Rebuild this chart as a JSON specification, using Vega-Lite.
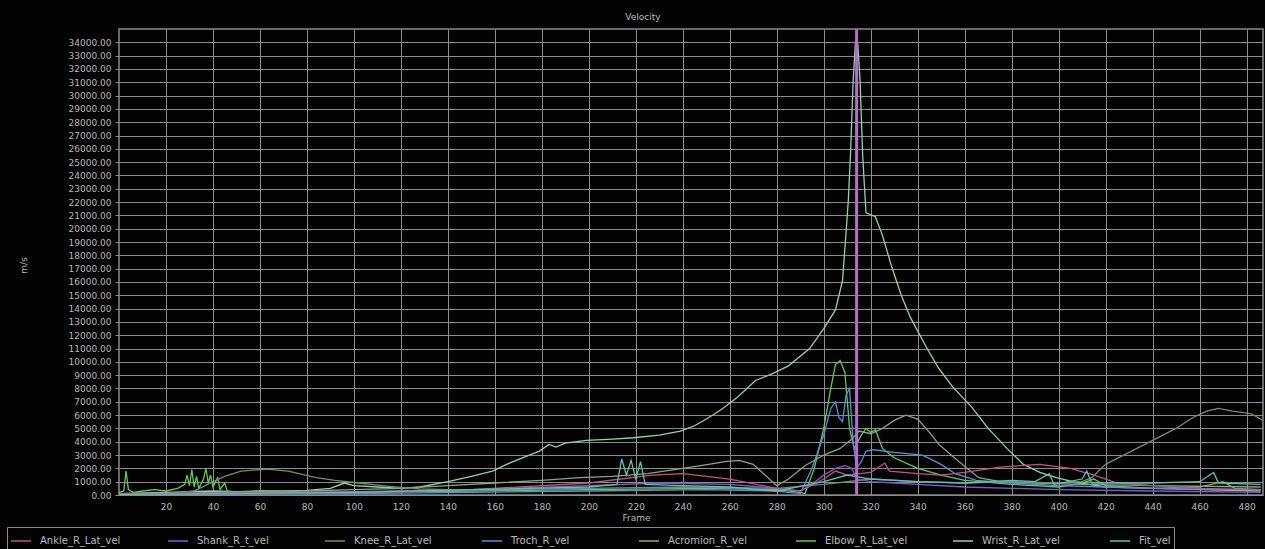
{
  "$schema": "https://vega.github.io/schema/vega-lite/v6.json",
  "width": 1144,
  "height": 466,
  "autosize": {"type": "none"},
  "padding": {"left": 119, "top": 29, "right": 2, "bottom": 54},
  "background": "#030303",
  "title": {"text": "Velocity", "fontSize": 9, "color": "#bdbdbd", "font": "DejaVu Sans", "fontWeight": "normal", "anchor": "middle", "dx": -48, "offset": 6},
  "config": {
    "view": {"stroke": "#8a8a8a", "strokeWidth": 1.5, "fill": "#030303"},
    "axis": {"gridColor": "#8c8c8c", "gridWidth": 1, "gridOpacity": 1, "domain": false, "labelColor": "#b8b8b8", "labelFont": "DejaVu Sans", "labelFontSize": 9, "titleColor": "#b8b8b8", "titleFont": "DejaVu Sans", "titleFontSize": 9, "titleFontWeight": "normal"}
  },
  "datasets": {
    "vel": [
      {"s":"Wrist_R_Lat_vel","f":0,"v":100},{"s":"Wrist_R_Lat_vel","f":10,"v":150},{"s":"Wrist_R_Lat_vel","f":20,"v":200},{"s":"Wrist_R_Lat_vel","f":30,"v":250},{"s":"Wrist_R_Lat_vel","f":40,"v":300},{"s":"Wrist_R_Lat_vel","f":50,"v":250},{"s":"Wrist_R_Lat_vel","f":60,"v":300},{"s":"Wrist_R_Lat_vel","f":70,"v":300},{"s":"Wrist_R_Lat_vel","f":80,"v":350},{"s":"Wrist_R_Lat_vel","f":90,"v":500},{"s":"Wrist_R_Lat_vel","f":96,"v":900},{"s":"Wrist_R_Lat_vel","f":100,"v":700},{"s":"Wrist_R_Lat_vel","f":110,"v":600},{"s":"Wrist_R_Lat_vel","f":120,"v":500},{"s":"Wrist_R_Lat_vel","f":128,"v":600},{"s":"Wrist_R_Lat_vel","f":140,"v":1000},{"s":"Wrist_R_Lat_vel","f":150,"v":1400},{"s":"Wrist_R_Lat_vel","f":159,"v":1800},{"s":"Wrist_R_Lat_vel","f":165,"v":2300},{"s":"Wrist_R_Lat_vel","f":172,"v":2800},{"s":"Wrist_R_Lat_vel","f":179,"v":3300},{"s":"Wrist_R_Lat_vel","f":183,"v":3800},{"s":"Wrist_R_Lat_vel","f":186,"v":3600},{"s":"Wrist_R_Lat_vel","f":190,"v":3900},{"s":"Wrist_R_Lat_vel","f":199,"v":4100},{"s":"Wrist_R_Lat_vel","f":210,"v":4200},{"s":"Wrist_R_Lat_vel","f":219,"v":4300},{"s":"Wrist_R_Lat_vel","f":230,"v":4500},{"s":"Wrist_R_Lat_vel","f":239,"v":4800},{"s":"Wrist_R_Lat_vel","f":245,"v":5200},{"s":"Wrist_R_Lat_vel","f":251,"v":5800},{"s":"Wrist_R_Lat_vel","f":257,"v":6500},{"s":"Wrist_R_Lat_vel","f":263,"v":7300},{"s":"Wrist_R_Lat_vel","f":271,"v":8600},{"s":"Wrist_R_Lat_vel","f":278,"v":9100},{"s":"Wrist_R_Lat_vel","f":285,"v":9700},{"s":"Wrist_R_Lat_vel","f":294,"v":11000},{"s":"Wrist_R_Lat_vel","f":300,"v":12500},{"s":"Wrist_R_Lat_vel","f":305,"v":13900},{"s":"Wrist_R_Lat_vel","f":308,"v":16100},{"s":"Wrist_R_Lat_vel","f":309.5,"v":19700},{"s":"Wrist_R_Lat_vel","f":310.5,"v":22200},{"s":"Wrist_R_Lat_vel","f":311.5,"v":26000},{"s":"Wrist_R_Lat_vel","f":312.5,"v":31000},{"s":"Wrist_R_Lat_vel","f":313.5,"v":34000},{"s":"Wrist_R_Lat_vel","f":314.5,"v":33900},{"s":"Wrist_R_Lat_vel","f":315.5,"v":31000},{"s":"Wrist_R_Lat_vel","f":316.6,"v":25400},{"s":"Wrist_R_Lat_vel","f":318,"v":21200},{"s":"Wrist_R_Lat_vel","f":322,"v":20900},{"s":"Wrist_R_Lat_vel","f":325,"v":19500},{"s":"Wrist_R_Lat_vel","f":329,"v":17100},{"s":"Wrist_R_Lat_vel","f":333,"v":15000},{"s":"Wrist_R_Lat_vel","f":337,"v":13300},{"s":"Wrist_R_Lat_vel","f":344,"v":11000},{"s":"Wrist_R_Lat_vel","f":349,"v":9500},{"s":"Wrist_R_Lat_vel","f":355,"v":8100},{"s":"Wrist_R_Lat_vel","f":363,"v":6600},{"s":"Wrist_R_Lat_vel","f":370,"v":5000},{"s":"Wrist_R_Lat_vel","f":378,"v":3500},{"s":"Wrist_R_Lat_vel","f":385,"v":2300},{"s":"Wrist_R_Lat_vel","f":392,"v":1700},{"s":"Wrist_R_Lat_vel","f":399,"v":1300},{"s":"Wrist_R_Lat_vel","f":406,"v":1000},{"s":"Wrist_R_Lat_vel","f":413,"v":800},{"s":"Wrist_R_Lat_vel","f":420,"v":600},{"s":"Wrist_R_Lat_vel","f":440,"v":500},{"s":"Wrist_R_Lat_vel","f":460,"v":400},{"s":"Wrist_R_Lat_vel","f":486,"v":300},

      {"s":"Elbow_R_Lat_vel","f":0,"v":200},{"s":"Elbow_R_Lat_vel","f":2,"v":300},{"s":"Elbow_R_Lat_vel","f":3,"v":1800},{"s":"Elbow_R_Lat_vel","f":4,"v":400},{"s":"Elbow_R_Lat_vel","f":6,"v":200},{"s":"Elbow_R_Lat_vel","f":10,"v":300},{"s":"Elbow_R_Lat_vel","f":15,"v":400},{"s":"Elbow_R_Lat_vel","f":20,"v":300},{"s":"Elbow_R_Lat_vel","f":25,"v":500},{"s":"Elbow_R_Lat_vel","f":28,"v":800},{"s":"Elbow_R_Lat_vel","f":29,"v":1500},{"s":"Elbow_R_Lat_vel","f":30,"v":700},{"s":"Elbow_R_Lat_vel","f":31,"v":1900},{"s":"Elbow_R_Lat_vel","f":32,"v":600},{"s":"Elbow_R_Lat_vel","f":33,"v":1400},{"s":"Elbow_R_Lat_vel","f":34,"v":500},{"s":"Elbow_R_Lat_vel","f":36,"v":1200},{"s":"Elbow_R_Lat_vel","f":37,"v":2000},{"s":"Elbow_R_Lat_vel","f":38,"v":900},{"s":"Elbow_R_Lat_vel","f":39,"v":1500},{"s":"Elbow_R_Lat_vel","f":40,"v":600},{"s":"Elbow_R_Lat_vel","f":42,"v":1300},{"s":"Elbow_R_Lat_vel","f":43,"v":400},{"s":"Elbow_R_Lat_vel","f":45,"v":900},{"s":"Elbow_R_Lat_vel","f":46,"v":300},{"s":"Elbow_R_Lat_vel","f":50,"v":200},{"s":"Elbow_R_Lat_vel","f":60,"v":300},{"s":"Elbow_R_Lat_vel","f":80,"v":200},{"s":"Elbow_R_Lat_vel","f":100,"v":200},{"s":"Elbow_R_Lat_vel","f":150,"v":300},{"s":"Elbow_R_Lat_vel","f":200,"v":400},{"s":"Elbow_R_Lat_vel","f":250,"v":500},{"s":"Elbow_R_Lat_vel","f":280,"v":400},{"s":"Elbow_R_Lat_vel","f":290,"v":200},{"s":"Elbow_R_Lat_vel","f":292,"v":100},{"s":"Elbow_R_Lat_vel","f":296,"v":2000},{"s":"Elbow_R_Lat_vel","f":300,"v":5000},{"s":"Elbow_R_Lat_vel","f":303,"v":8000},{"s":"Elbow_R_Lat_vel","f":305,"v":9800},{"s":"Elbow_R_Lat_vel","f":307,"v":10100},{"s":"Elbow_R_Lat_vel","f":309,"v":9200},{"s":"Elbow_R_Lat_vel","f":311,"v":5000},{"s":"Elbow_R_Lat_vel","f":313,"v":3500},{"s":"Elbow_R_Lat_vel","f":316,"v":4500},{"s":"Elbow_R_Lat_vel","f":318,"v":5000},{"s":"Elbow_R_Lat_vel","f":320,"v":4700},{"s":"Elbow_R_Lat_vel","f":322,"v":4900},{"s":"Elbow_R_Lat_vel","f":325,"v":3500},{"s":"Elbow_R_Lat_vel","f":330,"v":2800},{"s":"Elbow_R_Lat_vel","f":340,"v":2000},{"s":"Elbow_R_Lat_vel","f":350,"v":1500},{"s":"Elbow_R_Lat_vel","f":360,"v":1100},{"s":"Elbow_R_Lat_vel","f":380,"v":800},{"s":"Elbow_R_Lat_vel","f":400,"v":600},{"s":"Elbow_R_Lat_vel","f":410,"v":900},{"s":"Elbow_R_Lat_vel","f":415,"v":1200},{"s":"Elbow_R_Lat_vel","f":420,"v":700},{"s":"Elbow_R_Lat_vel","f":440,"v":500},{"s":"Elbow_R_Lat_vel","f":460,"v":600},{"s":"Elbow_R_Lat_vel","f":470,"v":1000},{"s":"Elbow_R_Lat_vel","f":475,"v":500},{"s":"Elbow_R_Lat_vel","f":486,"v":400},

      {"s":"Acromion_R_vel","f":0,"v":100},{"s":"Acromion_R_vel","f":20,"v":100},{"s":"Acromion_R_vel","f":40,"v":200},{"s":"Acromion_R_vel","f":60,"v":250},{"s":"Acromion_R_vel","f":80,"v":300},{"s":"Acromion_R_vel","f":100,"v":400},{"s":"Acromion_R_vel","f":120,"v":500},{"s":"Acromion_R_vel","f":140,"v":700},{"s":"Acromion_R_vel","f":160,"v":900},{"s":"Acromion_R_vel","f":180,"v":1100},{"s":"Acromion_R_vel","f":196,"v":1300},{"s":"Acromion_R_vel","f":210,"v":1400},{"s":"Acromion_R_vel","f":225,"v":1600},{"s":"Acromion_R_vel","f":240,"v":2000},{"s":"Acromion_R_vel","f":251,"v":2300},{"s":"Acromion_R_vel","f":258,"v":2500},{"s":"Acromion_R_vel","f":264,"v":2600},{"s":"Acromion_R_vel","f":270,"v":2300},{"s":"Acromion_R_vel","f":275,"v":1500},{"s":"Acromion_R_vel","f":280,"v":700},{"s":"Acromion_R_vel","f":285,"v":1200},{"s":"Acromion_R_vel","f":292,"v":2200},{"s":"Acromion_R_vel","f":300,"v":3000},{"s":"Acromion_R_vel","f":307,"v":3500},{"s":"Acromion_R_vel","f":312,"v":4200},{"s":"Acromion_R_vel","f":315,"v":4800},{"s":"Acromion_R_vel","f":320,"v":4600},{"s":"Acromion_R_vel","f":325,"v":5000},{"s":"Acromion_R_vel","f":330,"v":5600},{"s":"Acromion_R_vel","f":335,"v":6000},{"s":"Acromion_R_vel","f":340,"v":5700},{"s":"Acromion_R_vel","f":345,"v":4700},{"s":"Acromion_R_vel","f":349,"v":3800},{"s":"Acromion_R_vel","f":355,"v":2900},{"s":"Acromion_R_vel","f":361,"v":2000},{"s":"Acromion_R_vel","f":366,"v":1300},{"s":"Acromion_R_vel","f":375,"v":1000},{"s":"Acromion_R_vel","f":390,"v":900},{"s":"Acromion_R_vel","f":410,"v":800},{"s":"Acromion_R_vel","f":440,"v":700},{"s":"Acromion_R_vel","f":486,"v":600},

      {"s":"Knee_R_Lat_vel","f":0,"v":50},{"s":"Knee_R_Lat_vel","f":20,"v":100},{"s":"Knee_R_Lat_vel","f":32,"v":300},{"s":"Knee_R_Lat_vel","f":40,"v":1000},{"s":"Knee_R_Lat_vel","f":45,"v":1400},{"s":"Knee_R_Lat_vel","f":52,"v":1800},{"s":"Knee_R_Lat_vel","f":63,"v":1950},{"s":"Knee_R_Lat_vel","f":72,"v":1800},{"s":"Knee_R_Lat_vel","f":84,"v":1300},{"s":"Knee_R_Lat_vel","f":92,"v":1100},{"s":"Knee_R_Lat_vel","f":102,"v":900},{"s":"Knee_R_Lat_vel","f":115,"v":650},{"s":"Knee_R_Lat_vel","f":128,"v":450},{"s":"Knee_R_Lat_vel","f":140,"v":400},{"s":"Knee_R_Lat_vel","f":160,"v":400},{"s":"Knee_R_Lat_vel","f":200,"v":500},{"s":"Knee_R_Lat_vel","f":240,"v":600},{"s":"Knee_R_Lat_vel","f":280,"v":500},{"s":"Knee_R_Lat_vel","f":300,"v":800},{"s":"Knee_R_Lat_vel","f":320,"v":1200},{"s":"Knee_R_Lat_vel","f":340,"v":1000},{"s":"Knee_R_Lat_vel","f":360,"v":900},{"s":"Knee_R_Lat_vel","f":380,"v":1000},{"s":"Knee_R_Lat_vel","f":400,"v":900},{"s":"Knee_R_Lat_vel","f":410,"v":1000},{"s":"Knee_R_Lat_vel","f":414,"v":1300},{"s":"Knee_R_Lat_vel","f":420,"v":2300},{"s":"Knee_R_Lat_vel","f":430,"v":3200},{"s":"Knee_R_Lat_vel","f":440,"v":4100},{"s":"Knee_R_Lat_vel","f":450,"v":5000},{"s":"Knee_R_Lat_vel","f":457,"v":5800},{"s":"Knee_R_Lat_vel","f":463,"v":6300},{"s":"Knee_R_Lat_vel","f":468,"v":6500},{"s":"Knee_R_Lat_vel","f":474,"v":6300},{"s":"Knee_R_Lat_vel","f":478,"v":6200},{"s":"Knee_R_Lat_vel","f":482,"v":6100},{"s":"Knee_R_Lat_vel","f":487,"v":5600},

      {"s":"Troch_R_vel","f":0,"v":50},{"s":"Troch_R_vel","f":100,"v":100},{"s":"Troch_R_vel","f":150,"v":200},{"s":"Troch_R_vel","f":200,"v":300},{"s":"Troch_R_vel","f":250,"v":400},{"s":"Troch_R_vel","f":280,"v":300},{"s":"Troch_R_vel","f":290,"v":100},{"s":"Troch_R_vel","f":295,"v":2000},{"s":"Troch_R_vel","f":300,"v":4500},{"s":"Troch_R_vel","f":303,"v":6500},{"s":"Troch_R_vel","f":305,"v":7000},{"s":"Troch_R_vel","f":306.5,"v":5800},{"s":"Troch_R_vel","f":308,"v":5500},{"s":"Troch_R_vel","f":309.5,"v":7500},{"s":"Troch_R_vel","f":311,"v":8000},{"s":"Troch_R_vel","f":312.5,"v":4000},{"s":"Troch_R_vel","f":314,"v":2000},{"s":"Troch_R_vel","f":316,"v":2500},{"s":"Troch_R_vel","f":318,"v":3300},{"s":"Troch_R_vel","f":321,"v":3400},{"s":"Troch_R_vel","f":330,"v":3200},{"s":"Troch_R_vel","f":342,"v":3000},{"s":"Troch_R_vel","f":350,"v":2300},{"s":"Troch_R_vel","f":356,"v":1600},{"s":"Troch_R_vel","f":365,"v":1100},{"s":"Troch_R_vel","f":380,"v":900},{"s":"Troch_R_vel","f":400,"v":700},{"s":"Troch_R_vel","f":420,"v":600},{"s":"Troch_R_vel","f":440,"v":500},{"s":"Troch_R_vel","f":470,"v":400},{"s":"Troch_R_vel","f":486,"v":400},

      {"s":"Shank_R_t_vel","f":0,"v":100},{"s":"Shank_R_t_vel","f":50,"v":100},{"s":"Shank_R_t_vel","f":100,"v":200},{"s":"Shank_R_t_vel","f":150,"v":400},{"s":"Shank_R_t_vel","f":200,"v":700},{"s":"Shank_R_t_vel","f":230,"v":900},{"s":"Shank_R_t_vel","f":260,"v":800},{"s":"Shank_R_t_vel","f":280,"v":500},{"s":"Shank_R_t_vel","f":290,"v":300},{"s":"Shank_R_t_vel","f":295,"v":800},{"s":"Shank_R_t_vel","f":300,"v":1500},{"s":"Shank_R_t_vel","f":305,"v":2000},{"s":"Shank_R_t_vel","f":309,"v":2200},{"s":"Shank_R_t_vel","f":312,"v":2000},{"s":"Shank_R_t_vel","f":314,"v":1200},{"s":"Shank_R_t_vel","f":320,"v":1000},{"s":"Shank_R_t_vel","f":330,"v":900},{"s":"Shank_R_t_vel","f":340,"v":800},{"s":"Shank_R_t_vel","f":360,"v":600},{"s":"Shank_R_t_vel","f":380,"v":500},{"s":"Shank_R_t_vel","f":400,"v":400},{"s":"Shank_R_t_vel","f":440,"v":300},{"s":"Shank_R_t_vel","f":486,"v":200},

      {"s":"Ankle_R_Lat_vel","f":0,"v":100},{"s":"Ankle_R_Lat_vel","f":50,"v":150},{"s":"Ankle_R_Lat_vel","f":100,"v":250},{"s":"Ankle_R_Lat_vel","f":150,"v":400},{"s":"Ankle_R_Lat_vel","f":200,"v":900},{"s":"Ankle_R_Lat_vel","f":227,"v":1500},{"s":"Ankle_R_Lat_vel","f":240,"v":1600},{"s":"Ankle_R_Lat_vel","f":260,"v":1200},{"s":"Ankle_R_Lat_vel","f":280,"v":500},{"s":"Ankle_R_Lat_vel","f":290,"v":300},{"s":"Ankle_R_Lat_vel","f":300,"v":1200},{"s":"Ankle_R_Lat_vel","f":305,"v":1800},{"s":"Ankle_R_Lat_vel","f":310,"v":1500},{"s":"Ankle_R_Lat_vel","f":320,"v":1700},{"s":"Ankle_R_Lat_vel","f":326,"v":2400},{"s":"Ankle_R_Lat_vel","f":328,"v":1800},{"s":"Ankle_R_Lat_vel","f":340,"v":1600},{"s":"Ankle_R_Lat_vel","f":350,"v":1500},{"s":"Ankle_R_Lat_vel","f":360,"v":1700},{"s":"Ankle_R_Lat_vel","f":375,"v":2100},{"s":"Ankle_R_Lat_vel","f":392,"v":2300},{"s":"Ankle_R_Lat_vel","f":405,"v":2000},{"s":"Ankle_R_Lat_vel","f":415,"v":1500},{"s":"Ankle_R_Lat_vel","f":425,"v":900},{"s":"Ankle_R_Lat_vel","f":440,"v":700},{"s":"Ankle_R_Lat_vel","f":460,"v":500},{"s":"Ankle_R_Lat_vel","f":486,"v":400},

      {"s":"Fit_vel","f":0,"v":50},{"s":"Fit_vel","f":50,"v":100},{"s":"Fit_vel","f":100,"v":200},{"s":"Fit_vel","f":150,"v":400},{"s":"Fit_vel","f":200,"v":600},{"s":"Fit_vel","f":212,"v":800},{"s":"Fit_vel","f":214,"v":2700},{"s":"Fit_vel","f":216,"v":1500},{"s":"Fit_vel","f":218,"v":2600},{"s":"Fit_vel","f":220,"v":1200},{"s":"Fit_vel","f":222,"v":2500},{"s":"Fit_vel","f":224,"v":800},{"s":"Fit_vel","f":240,"v":700},{"s":"Fit_vel","f":260,"v":600},{"s":"Fit_vel","f":280,"v":300},{"s":"Fit_vel","f":300,"v":1000},{"s":"Fit_vel","f":310,"v":1500},{"s":"Fit_vel","f":320,"v":1200},{"s":"Fit_vel","f":340,"v":1000},{"s":"Fit_vel","f":360,"v":900},{"s":"Fit_vel","f":380,"v":1100},{"s":"Fit_vel","f":390,"v":1000},{"s":"Fit_vel","f":396,"v":1600},{"s":"Fit_vel","f":398,"v":800},{"s":"Fit_vel","f":410,"v":1200},{"s":"Fit_vel","f":412,"v":1800},{"s":"Fit_vel","f":414,"v":900},{"s":"Fit_vel","f":440,"v":900},{"s":"Fit_vel","f":460,"v":1000},{"s":"Fit_vel","f":466,"v":1700},{"s":"Fit_vel","f":468,"v":900},{"s":"Fit_vel","f":486,"v":800}
    ],
    "cursor": [{"f": 314}]
  },
  "layer": [
    {
      "data": {"name": "vel"},
      "mark": {"type": "line", "strokeWidth": 1.3, "clip": true},
      "encoding": {
        "x": {"field": "f", "type": "quantitative", "scale": {"domain": [0, 487], "nice": false, "zero": false},
          "axis": {"values": [20,40,60,80,100,120,140,160,180,200,220,240,260,280,300,320,340,360,380,400,420,440,460,480], "ticks": false, "labelPadding": 7, "title": "Frame", "titleX": 517, "titleY": 22, "titleBaseline": "middle", "titleAnchor": null}},
        "y": {"field": "v", "type": "quantitative", "scale": {"domain": [0, 35000], "nice": false},
          "axis": {"values": [0,1000,2000,3000,4000,5000,6000,7000,8000,9000,10000,11000,12000,13000,14000,15000,16000,17000,18000,19000,20000,21000,22000,23000,24000,25000,26000,27000,28000,29000,30000,31000,32000,33000,34000], "format": ".2f", "ticks": true, "tickSize": 4, "tickColor": "#8a8a8a", "labelPadding": 4, "title": "m/s", "titleX": -91, "titleY": 236, "titleAnchor": null}},
        "color": {"field": "s", "type": "nominal",
          "scale": {"domain": ["Ankle_R_Lat_vel","Shank_R_t_vel","Knee_R_Lat_vel","Troch_R_vel","Acromion_R_vel","Elbow_R_Lat_vel","Wrist_R_Lat_vel","Fit_vel"],
                    "range": ["#c4508c","#8258d2","#6f8f72","#5a8fdc","#8aa878","#62c85a","#92d2ae","#5fc0b4"]},
          "legend": {"orient": "none", "legendX": -112, "legendY": 498, "direction": "horizontal", "columns": 8, "gridAlign": "all", "columnPadding": 42, "title": null, "symbolType": "stroke", "symbolSize": 400, "symbolStrokeWidth": 1.5, "labelColor": "#b8b8b8", "labelFont": "DejaVu Sans", "labelFontSize": 10, "labelOffset": 8, "labelLimit": 200, "padding": 3, "strokeColor": "#8a8a8a", "fillColor": "#030303"}
        },
        "order": {"field": "f", "type": "quantitative"}
      }
    },
    {
      "data": {"name": "cursor"},
      "mark": {"type": "rule", "color": "#b86ccc", "strokeWidth": 3},
      "encoding": {"x": {"field": "f", "type": "quantitative"}}
    }
  ]
}
